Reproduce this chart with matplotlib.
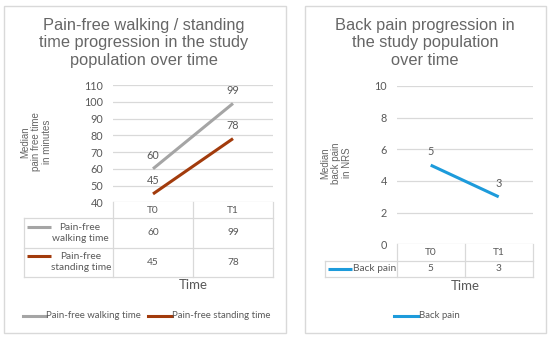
import matplotlib.pyplot as plt
from matplotlib.lines import Line2D
from matplotlib.patches import Rectangle

W, H = 550, 338

times = ["T0", "T1"]
walking = [60, 99]
standing = [45, 78]
back_pain = [5, 3]

gray = "#A5A5A5"
rust = "#A23B0C"
blue = "#1D9BDB"
grid_c = "#D9D9D9"
txt_c = "#595959"
title_c = "#666666"
title_f = ["Liberation Sans", "DejaVu Sans"]
body_f = ["Lato", "DejaVu Sans"]
fs = 7.3

fig = plt.figure(figsize=(W / 100, H / 100), dpi=100)


def fx(x):
    return x / W


def fy(y):
    return 1 - y / H


def fline(x0, x1, y0, y1, **kw):
    fig.add_artist(Line2D([fx(x0), fx(x1)], [fy(y0), fy(y1)],
                          transform=fig.transFigure, **kw))


def ftext(x, y, s, **kw):
    kw.setdefault("color", txt_c)
    kw.setdefault("family", body_f)
    fig.text(fx(x), fy(y), s, **kw)


def make_ax(x0, x1, ytop, ybot):
    return fig.add_axes([fx(x0), fy(ybot), fx(x1) - fx(x0), (ybot - ytop) / H])


def style(ax, ticks):
    ax.set_xlim(-0.5, len(times) - 0.5)
    ax.set_ylim(ticks[0], ticks[-1])
    ax.set_yticks(ticks)
    ax.set_xticks([])
    ax.grid(axis="y", color=grid_c, lw=0.9)
    ax.set_axisbelow(True)
    for s in ax.spines.values():
        s.set_visible(False)
    ax.tick_params(axis="y", length=0, pad=7, labelsize=7.8, labelcolor=txt_c)
    for lab in ax.get_yticklabels():
        lab.set_family(body_f)


def labels(ax, ys):
    for xi, yi in enumerate(ys):
        ax.annotate(str(yi), (xi, yi), xytext=(0, 9.5), textcoords="offset points",
                    ha="center", va="center", fontsize=7.8, color=txt_c,
                    family=body_f)


def table(x_left, rows, ybot_hdr, row_h, xcols):
    # xcols: pixel x of column borders [axis left, mid, right]
    n = len(rows)
    yb = ybot_hdr + n * row_h
    ytop = ybot_hdr - 16.3
    for xc in xcols:
        fline(xc, xc, ytop, yb, color=grid_c, lw=0.9)
    fline(x_left, x_left, ybot_hdr, yb, color=grid_c, lw=0.9)
    for i in range(n + 1):
        y = ybot_hdr + i * row_h
        fline(x_left, xcols[-1], y, y, color=grid_c, lw=0.9)
    for j, t in enumerate(times):
        cx = (xcols[j] + xcols[j + 1]) / 2
        ftext(cx, ybot_hdr - 8, t, ha="center", va="center", fontsize=fs)
    for i, (label, vals, color, key_x, lab_x, ha) in enumerate(rows):
        cy = ybot_hdr + (i + 0.5) * row_h
        ky = cy - (6 if "\n" in label else 0)
        fline(key_x[0], key_x[1], ky, ky, color=color, lw=2.2,
              solid_capstyle="butt")
        ftext(lab_x, cy, label, ha=ha, va="center", fontsize=fs,
              multialignment="center", linespacing=1.2)
        for j, v in enumerate(vals):
            cx = (xcols[j] + xcols[j + 1]) / 2
            ftext(cx, cy, str(v), ha="center", va="center", fontsize=fs)


# panel borders
for x0, x1 in [(4, 286), (305, 546)]:
    fig.add_artist(Rectangle((fx(x0), fy(333)), fx(x1) - fx(x0), fy(6) - fy(333),
                             transform=fig.transFigure, fill=False,
                             ec=grid_c, lw=1))

# ---- left panel ----
ax1 = make_ax(113, 273, 85, 202.3)
style(ax1, list(range(40, 111, 10)))
ax1.plot(range(len(times)), walking, color=gray, lw=2.2, solid_capstyle="butt")
ax1.plot(range(len(times)), standing, color=rust, lw=2.2, solid_capstyle="butt")
labels(ax1, walking)
labels(ax1, standing)
ftext(144, 43, "Pain-free walking / standing\ntime progression in the study\npopulation over time",
      ha="center", va="center", fontsize=11.8, family=title_f, linespacing=1.22,
      color=title_c)
ftext(36, 142, "Median\npain free time\nin minutes", ha="center", va="center",
      rotation=90, fontsize=7, family=title_f, linespacing=1.1, color=title_c)
table(24, [
    ("Pain-free\nwalking time", walking, gray, (27, 51), 80, "center"),
    ("Pain-free\nstanding time", standing, rust, (27, 51), 81, "center"),
], 218.3, 29.2, [113, 193, 273])
ftext(193, 285, "Time", ha="center", va="center", fontsize=9.5)
fline(22.5, 45.5, 315.7, 315.7, color=gray, lw=2.2)
ftext(46.5, 315.7, "Pain-free walking time", ha="left", va="center", fontsize=6.9)
fline(148, 172, 315.7, 315.7, color=rust, lw=2.2)
ftext(172.5, 315.7, "Pain-free standing time", ha="left", va="center", fontsize=6.9)

# ---- right panel ----
ax2 = make_ax(396.7, 532.7, 86, 244.3)
style(ax2, list(range(0, 11, 2)))
ax2.plot(range(len(times)), back_pain, color=blue, lw=2.2, solid_capstyle="butt")
labels(ax2, back_pain)
ftext(425, 43, "Back pain progression in\nthe study population\nover time",
      ha="center", va="center", fontsize=11.8, family=title_f, linespacing=1.22,
      color=title_c)
ftext(336, 163, "Median\nback pain\nin NRS", ha="center", va="center",
      rotation=90, fontsize=7, family=title_f, linespacing=1.1, color=title_c)
table(325, [
    ("Back pain", back_pain, blue, (327.7, 352), 353, "left"),
], 260.7, 16, [396.7, 464.7, 532.7])
ftext(465, 285.7, "Time", ha="center", va="center", fontsize=9.5)
fline(394, 418, 315.7, 315.7, color=blue, lw=2.2)
ftext(419, 315.7, "Back pain", ha="left", va="center", fontsize=6.9)

fig.savefig("out.png", dpi=100)
